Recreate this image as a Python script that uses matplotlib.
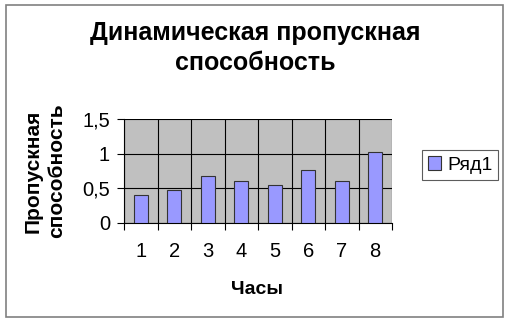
import matplotlib
matplotlib.use("Agg")
import matplotlib.pyplot as plt
from matplotlib.patches import Rectangle
import numpy as np

categories = ["1", "2", "3", "4", "5", "6", "7", "8"]
values = [0.40, 0.47, 0.68, 0.60, 0.55, 0.76, 0.60, 1.03]
series_name = "Ряд1"
title = "Динамическая пропускная\nспособность"
xlabel = "Часы"
ylabel = "Пропускная\nспособность"
yticks = [0, 0.5, 1, 1.5]
yticklabels = ["0", "0,5", "1", "1,5"]

plt.rcParams['font.family'] = ['Liberation Sans', 'DejaVu Sans']

fig = plt.figure(figsize=(5.10, 3.23), dpi=100)
fig.patch.set_facecolor('white')
fig.patches.append(Rectangle((6/510, 1 - 317/323), 497/510, 312/323,
                             transform=fig.transFigure, fill=False,
                             edgecolor='#808080', linewidth=1.2))

ax = fig.add_axes([124/510, 1 - 223/323, 268/510, 104/323])
ax.set_facecolor('#C0C0C0')
x = np.arange(len(categories))
bars = ax.bar(x, values, width=0.43, color='#9999FF', edgecolor='#333333',
              linewidth=0.8, label=series_name, zorder=3)
ax.set_xlim(-0.5, len(categories) - 0.5)
ax.set_ylim(0, 1.5)
ax.set_yticks(yticks)
ax.set_yticklabels(yticklabels, fontsize=14.5)
ax.set_xticks(x)
ax.set_xticklabels(categories, fontsize=14.5)
ax.set_xticks(np.arange(len(categories) + 1) - 0.5, minor=True)
ax.tick_params(axis='x', which='major', length=0, pad=14)
ax.tick_params(axis='x', which='minor', length=5, width=0.8, direction='out')
ax.tick_params(axis='y', length=5, width=0.8, direction='out', pad=5)
ax.grid(True, axis='y', which='major', color='black', linewidth=0.8, zorder=1)
ax.grid(True, axis='x', which='minor', color='black', linewidth=0.8, zorder=1)
ax.set_axisbelow(True)
for side in ['top', 'right']:
    ax.spines[side].set_visible(False)
ax.spines['left'].set_color('black')
ax.spines['bottom'].set_color('black')

fig.text(255/510, 1 - 48/323, title, ha='center', va='center',
         fontsize=18, fontweight='bold', linespacing=1.3)
fig.text(257/510, 1 - 290/323, xlabel, ha='center', va='center',
         fontsize=14, fontweight='bold')
fig.text(45/510, 1 - 171/323, ylabel, ha='center', va='center', rotation=90,
         fontsize=15, fontweight='bold', linespacing=1.25)

leg = fig.legend(handles=[bars], labels=[series_name],
                 loc='center', bbox_to_anchor=(460/510, 1 - 165/323),
                 fontsize=14, frameon=True, fancybox=False,
                 handlelength=0.7, handleheight=0.7, handletextpad=0.3,
                 borderpad=0.3, borderaxespad=0)
leg.get_frame().set_edgecolor('#333333')
leg.get_frame().set_linewidth(0.8)

fig.savefig('out.png', dpi=100)
